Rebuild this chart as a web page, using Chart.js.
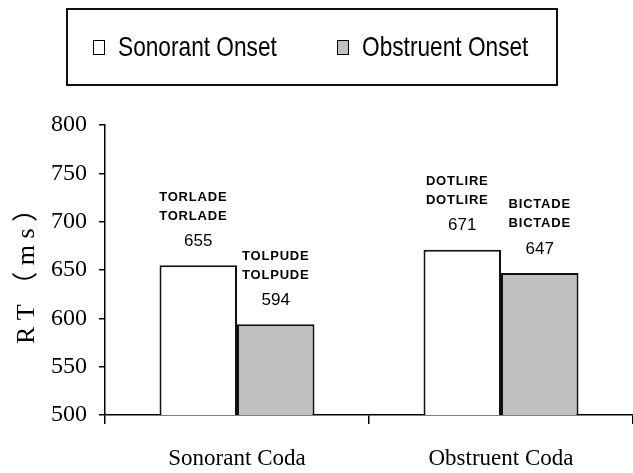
<!DOCTYPE html>
<html>
<head>
<meta charset="utf-8">
<script src="https://cdn.jsdelivr.net/npm/chart.js@4/dist/chart.umd.min.js"></script>
<style>
  html, body { margin: 0; padding: 0; background: #fff; }
  #wrap { position: relative; width: 633px; height: 473px; }
  #legend {
    position: absolute; left: 66px; top: 8px; width: 488px; height: 74px;
    border: 2px solid #111; box-sizing: content-box;
    font-family: 'Liberation Sans', Arial, sans-serif;
    font-size: 28px; color: #000;
  }
  .item { position: absolute; top: 0; height: 74px; display: flex; align-items: center; white-space: nowrap; }
  .sw { display: inline-block; width: 10px; height: 13px; border: 1px solid #000; margin-right: 13px; }
  .tx { display: inline-block; transform: scaleX(0.81); transform-origin: left center; }
  canvas { position: absolute; left: 0; top: 0; }
</style>
</head>
<body>
<div id="wrap">
  <canvas id="c" width="633" height="473"></canvas>
  <div id="legend"></div>
</div>
<script>
const categories = ["Sonorant Coda", "Obstruent Coda"];
const seriesNames = ["Sonorant Onset", "Obstruent Onset"];
const sonorantOnset = [655, 671];
const obstruentOnset = [594, 647];
const sonorantOnsetWords = ["TORLADE", "DOTLIRE"];
const obstruentOnsetWords = ["TOLPUDE", "BICTADE"];
const yTicks = [500, 550, 600, 650, 700, 750, 800];

const fills = ["#ffffff", "#c0c0c0"];
const wordSets = [sonorantOnsetWords, obstruentOnsetWords];
const wordShift = [-5, 0];

// HTML legend built from series names
const legendEl = document.getElementById('legend');
const itemLeft = [25, 269];
seriesNames.forEach((n, i) => {
  const it = document.createElement('div');
  it.className = 'item';
  it.style.left = itemLeft[i] + 'px';
  const sw = document.createElement('span');
  sw.className = 'sw';
  sw.style.background = fills[i];
  it.appendChild(sw);
  const tx = document.createElement('span');
  tx.className = 'tx';
  tx.textContent = n;
  it.appendChild(tx);
  legendEl.appendChild(it);
});

const labelPlugin = {
  id: 'barLabels',
  afterDatasetsDraw(chart) {
    const ctx = chart.ctx;
    ctx.save();
    ctx.fillStyle = '#000';
    ctx.textAlign = 'center';
    ctx.textBaseline = 'middle';
    chart.data.datasets.forEach((ds, di) => {
      const meta = chart.getDatasetMeta(di);
      meta.data.forEach((bar, i) => {
        const x = bar.x, top = bar.y;
        ctx.font = '17px "Liberation Sans", Arial, sans-serif';
        try { ctx.letterSpacing = '0px'; } catch (e) {}
        ctx.fillText(String(ds.data[i]), x, top - 24);
        ctx.font = 'bold 13px "Liberation Sans", Arial, sans-serif';
        try { ctx.letterSpacing = '0.8px'; } catch (e) {}
        const w = wordSets[di][i];
        ctx.fillText(w, x + wordShift[di], top - 49);
        ctx.fillText(w, x + wordShift[di], top - 68);
      });
    });
    ctx.restore();
  }
};

new Chart(document.getElementById('c'), {
  type: 'bar',
  data: {
    labels: categories,
    datasets: [
      { label: seriesNames[0], data: sonorantOnset, backgroundColor: fills[0], borderColor: '#111', borderWidth: 2, borderSkipped: false },
      { label: seriesNames[1], data: obstruentOnset, backgroundColor: fills[1], borderColor: '#111', borderWidth: 2, borderSkipped: false }
    ]
  },
  options: {
    responsive: false,
    animation: false,
    devicePixelRatio: 1,
    layout: { padding: { top: 125, left: 12, right: 0, bottom: 0 } },
    datasets: { bar: { barPercentage: 1.0, categoryPercentage: 0.587 } },
    plugins: { legend: { display: false }, tooltip: { enabled: false } },
    scales: {
      x: {
        afterFit(scale) { scale.height = 58; },
        grid: { drawOnChartArea: false, drawTicks: true, tickLength: 9, color: '#000', lineWidth: 1.5 },
        border: { color: '#000', width: 1.5 },
        ticks: { color: '#000', padding: 21, maxRotation: 0, font: { family: '"Liberation Serif", "Times New Roman", serif', size: 23 } }
      },
      y: {
        min: 500, max: 800,
        afterBuildTicks(scale) { scale.ticks = yTicks.map(v => ({ value: v })); },
        afterFit(scale) { scale.width = 93; },
        grid: { drawOnChartArea: false, drawTicks: true, tickLength: 6, color: '#000', lineWidth: 1.5 },
        border: { color: '#000', width: 1.5 },
        ticks: { color: '#000', padding: 12, font: { family: '"Liberation Serif", "Times New Roman", serif', size: 24 } },
        title: {
          display: true, text: 'R T （ m s ）', color: '#000',
          padding: { top: 0, bottom: 8 },
          font: { family: '"Liberation Serif", "Times New Roman", "Noto Sans CJK SC", serif', size: 26 }
        }
      }
    }
  },
  plugins: [labelPlugin]
});
</script>
</body>
</html>
